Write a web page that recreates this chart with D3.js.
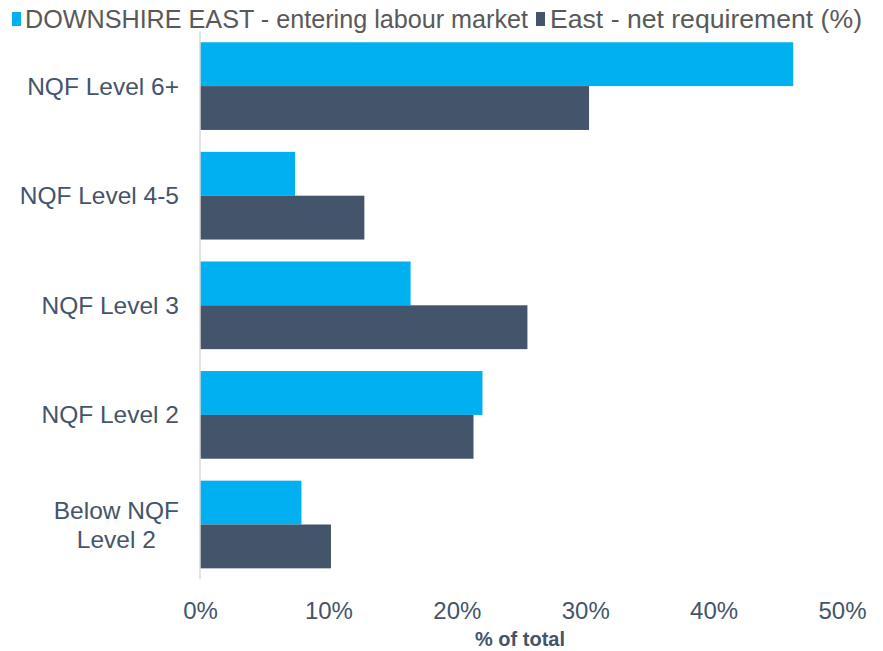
<!DOCTYPE html>
<html>
<head>
<meta charset="utf-8">
<script src="https://cdn.jsdelivr.net/npm/d3@7/dist/d3.min.js"></script>
<style>
  html, body { margin: 0; padding: 0; background: #fff; }
  svg text { font-family: Arial, "Liberation Sans", sans-serif; }
</style>
</head>
<body>
<svg id="chart" width="883" height="651"></svg>
<script>
// Qualification levels (top to bottom)
const categories = ["NQF Level 6+", "NQF Level 4-5", "NQF Level 3", "NQF Level 2", "Below NQF Level 2"];
// Share of total (%) per series
const enteringValues = [46.2, 7.4, 16.4, 22.0, 7.9];
const requirementValues = [30.3, 12.8, 25.5, 21.3, 10.2];
const seriesNames = ["DOWNSHIRE EAST - entering labour market", "East - net requirement (%)"];
const seriesColors = ["#00B0F0", "#44546A"];
const xTicks = [0, 10, 20, 30, 40, 50];
const xTitle = "% of total";

const svg = d3.select("#chart");
const textColor = "#44546A";

const x = d3.scaleLinear().domain([0, 50]).range([200, 842]);
const y = d3.scaleBand().domain(categories).range([31.3, 579.3]).paddingInner(0.2).paddingOuter(0.1);
const sub = d3.scaleBand().domain([0, 1]).range([0, y.bandwidth()]);

const rows = categories.map((c, i) => ({ cat: c, vals: [enteringValues[i], requirementValues[i]] }));

// Bars
const groups = svg.append("g").selectAll("g").data(rows).join("g")
  .attr("transform", d => `translate(0,${y(d.cat)})`);
groups.selectAll("rect").data(d => d.vals).join("rect")
  .attr("x", x(0))
  .attr("y", (d, i) => sub(i))
  .attr("width", d => x(d) - x(0))
  .attr("height", sub.bandwidth())
  .attr("fill", (d, i) => seriesColors[i]);

// Vertical category axis line
svg.append("line")
  .attr("x1", x(0)).attr("x2", x(0))
  .attr("y1", y.range()[0]).attr("y2", y.range()[1])
  .attr("stroke", "#D9D9D9").attr("stroke-width", 1.5);

// Category labels (wrapped when long)
const catLabels = svg.append("g").selectAll("text").data(categories).join("text")
  .attr("text-anchor", "middle")
  .attr("font-size", 24.5)
  .attr("fill", textColor);
catLabels.each(function (d) {
  const t = d3.select(this);
  const cy = y(d) + y.bandwidth() / 2;
  const lines = d.length > 14 ? ["Below NQF", "Level 2"] : [d];
  const lh = 29;
  lines.forEach((ln, k) => {
    t.append("tspan")
      .attr("x", 0)
      .attr("y", cy + 8.5 + (k - (lines.length - 1) / 2) * lh)
      .text(ln);
  });
});
// right-align each label block at x = 179, lines centred within it
catLabels.each(function () {
  const bb = this.getBBox();
  d3.select(this).attr("transform", `translate(${179 - bb.width / 2},0)`);
});

// X axis tick labels
const xAxis = d3.axisBottom(x).tickValues(xTicks).tickFormat(d => d + "%").tickSize(0).tickPadding(0);
const gx = svg.append("g").attr("transform", "translate(0,619)").call(xAxis);
gx.select(".domain").remove();
gx.selectAll("text")
  .attr("dy", 0).attr("y", 0)
  .attr("font-size", 24)
  .attr("font-family", "Arial, 'Liberation Sans', sans-serif")
  .attr("fill", textColor);

// X axis title
svg.append("text")
  .attr("x", 520).attr("y", 646)
  .attr("text-anchor", "middle")
  .attr("font-size", 20)
  .attr("font-weight", "bold")
  .attr("fill", textColor)
  .text(xTitle);

// Legend
const legendX = [12, 536];
const legendTextLen = [503, 312];
const legend = svg.append("g").selectAll("g").data(seriesNames).join("g")
  .attr("transform", (d, i) => `translate(${legendX[i]},0)`);
legend.append("rect")
  .attr("x", 0).attr("y", 12).attr("width", 9).attr("height", 14)
  .attr("fill", (d, i) => seriesColors[i]);
legend.append("text")
  .attr("x", (d, i) => i === 0 ? 13 : 14).attr("y", 28)
  .attr("font-size", 25.5)
  .attr("textLength", (d, i) => legendTextLen[i])
  .attr("lengthAdjust", "spacingAndGlyphs")
  .attr("fill", "#595959")
  .text(d => d);
</script>
</body>
</html>
